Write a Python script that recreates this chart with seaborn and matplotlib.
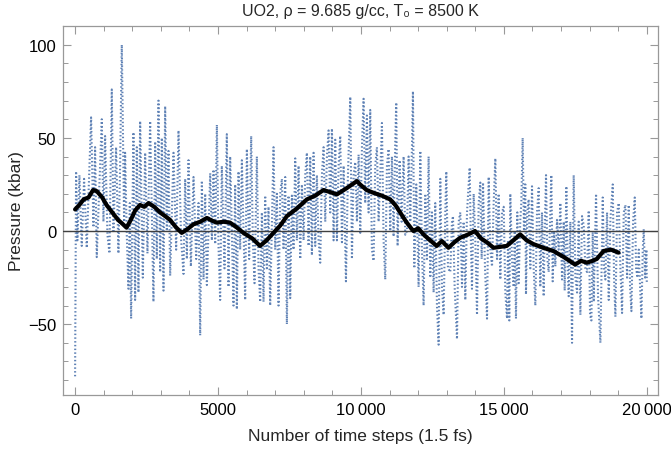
import numpy as np
import pandas as pd
import seaborn as sns
from matplotlib import pyplot as plt
from matplotlib.ticker import MultipleLocator, FixedLocator

# raw pressure trace (time step, kbar)
steps = [0, 35, 82, 152, 233, 315, 408, 502, 560, 642, 700, 758, 852, 934, 992, 1050, 1132, 1202,
         1284, 1342, 1435, 1517, 1575, 1634, 1715, 1750, 1809, 1867, 1914, 1960, 2042, 2100, 2159,
         2217, 2276, 2369, 2451, 2532, 2626, 2742, 2801, 2859, 2918, 2976, 3034, 3093, 3151, 3210,
         3268, 3326, 3443, 3536, 3618, 3711, 3793, 3851, 3910, 3968, 4050, 4143, 4236, 4318, 4376,
         4435, 4493, 4551, 4610, 4727, 4785, 4843, 4901, 4960,
         5017, 5075, 5133, 5227, 5308, 5367, 5425, 5542, 5600, 5659, 5717, 5775, 5834, 5950, 6009,
         6090, 6160, 6219, 6277, 6359, 6417, 6475, 6534, 6592, 6650, 6709, 6767, 6825, 6942, 7000,
         7059, 7117, 7176, 7234, 7292, 7351, 7409, 7467, 7526, 7584, 7642, 7701, 7759, 7818, 7876,
         7934, 7993, 8051, 8109, 8168, 8226, 8284, 8343, 8401, 8459, 8518, 8576, 8634, 8693, 8751,
         8810, 8868, 8926, 8985, 9043, 9101, 9160, 9218, 9276, 9335, 9393, 9475, 9545, 9627, 9685,
         9743, 9801, 9860, 9918, 9976, 10035,
         10092, 10150, 10208, 10267, 10325, 10383, 10442, 10500, 10558, 10617, 10675, 10734, 10792,
         10850, 10909, 10967, 11025, 11084, 11142, 11200, 11235, 11282, 11352, 11422, 11492, 11550,
         11609, 11667, 11726, 11784, 11819, 11866, 11936, 12017, 12076, 12134, 12192, 12250, 12309,
         12367, 12425, 12484, 12542, 12600, 12659, 12717, 12776, 12834, 12892, 12951, 12986, 13044,
         13125, 13184, 13219, 13278, 13360, 13418, 13476, 13534, 13593, 13651, 13710, 13803, 13850,
         13884, 13943, 14001, 14060, 14118, 14176, 14223, 14270, 14340, 14410, 14468, 14526, 14585,
         14643, 14701, 14760, 14818, 14876, 14935, 14993, 15051, 15110,
         15143, 15190, 15225, 15283, 15342, 15377, 15423, 15470, 15517, 15575, 15610, 15657, 15703,
         15750, 15773, 15820, 15867, 15925, 15984, 16042, 16100, 16159, 16217, 16275, 16334, 16392,
         16427, 16474, 16520, 16567, 16614, 16660, 16707, 16754, 16800, 16859, 16917, 16976, 17034,
         17092, 17127, 17186, 17232, 17267, 17326, 17384, 17442, 17501, 17559, 17617, 17676, 17734,
         17793, 17851, 17909, 17968, 18014, 18061, 18108, 18143, 18224, 18294, 18376, 18458, 18504,
         18550, 18609, 18667, 18726, 18808, 18854, 18901, 18959, 19018, 19076, 19134, 19193, 19251,
         19309, 19368, 19414, 19461, 19520, 19578, 19625, 19671, 19718, 19765, 19811, 19858, 19893,
         19940, 19986, 20000]
pressure = [-78, 32, -5, 30, -8, 28, -9, 35, 61, 2, 45, -14, 25, 60, 5, 51, -2, -12,
            76, 0, 45, -12, 35, 100, 5, 42, -2, -31, 15, -47, 53, -37, 45,
            -33, 59, -25, 42, -12, 59, -38, 48, -15, 70, -22, 50, -32, 67, 0,
            43, -24, 42, -10, 54, -5, -23, 28, -15, 38, -19, 29, -15, 15, -56,
            27, -26, 20, -29, 31, -5, 33, -7, 57,
            -8, -37, 35, -20, 52, -30, 40, -40, 25, -42, 32, -10, 38, -37, 44,
            -15, 51, -5, -28, 40, -20, -38, 10, -38, 19, -20, 13, -40, 45, -10,
            20, -40, 20, 28, -10, 29, -50, 19, -36, 19, -10, 39, -5, 35, -15,
            25, -5, 30, 42, -8, 40, -13, 42, -8, 30, -5, -17, 30, 45, 5,
            40, 54, 10, 55, -5, 49, -5, 35, 51, -6, 35, -27, 30, 72, -15,
            30, 37, 5, 41, -1, 45,
            71, 15, 62, 10, 65, -10, -16, 35, 45, 5, 30, 58, -5,
            -26, 35, 44, 0, 40, -3, 48, 69, -8, 38, 5, 40, -2,
            0, 40, 5, 45, 75, -20, 25, -30, 43, -10, -40, 20, -15,
            40, -25, 10, -33, 15, -40, -61, 28, -30, -45, 10, 32, -20,
            -22, 5, 8, -30, -58, 5, 10, -30, 5, -37, 10, 34, -10,
            -31, 20, -5, -45, 15, 26, -15, 26, -20, -47, 29, -10, -19,
            15, 39, -15, 20, -26, 10, 13, -33, -47,
            -5, -48, 20, -15, -30, 0, -47, 10, -28, 6, 15, 50, 0,
            25, -34, 10, 17, -20, 24, -20, -40, 10, 23, -30, 10, -35,
            0, 30, -15, -22, 5, 30, -27, 0, -19, 6, -10, 15, -26,
            5, -32, 24, -20, -35, 5, -60, 30, -25, -33, 5, -45, 8,
            3, -20, -22, 11, -45, -48, 0, -38, 20, -35, -60, 18, -20,
            -26, 10, -37, 6, 25, -25, -46, 10, 15, -20, -44, 10, 14,
            -25, 14, -30, -43, 5, 18, -20, -25, -10, -30, -47, -10, 1,
            -25, -10, -28]

# running average (black curve)
avg_steps = [0, 150, 300, 470, 630, 760, 950, 1100, 1300, 1500, 1650, 1800, 1950, 2100, 2270,
             2420, 2570, 2770, 2970, 3150, 3320, 3530, 3730, 3930, 4140, 4380, 4610, 4800, 4960,
             5200, 5420, 5650, 5890, 6200, 6470, 6700, 6940, 7180, 7410, 7750, 8110, 8400, 8690,
             8900, 9160, 9500, 9860, 9970, 10200, 10440, 10730, 11020, 11200, 11370, 11580, 11780,
             11840, 12000, 12200, 12420, 12650, 12830, 13060, 13270, 13470, 13730, 13990, 14200,
             14400, 14640, 14870, 15100, 15330, 15570, 15800, 16030, 16380, 16730, 17100, 17490,
             17700, 17900, 18100, 18250, 18490, 18750, 19010]
avg_values = [11.6, 14, 17, 18, 22, 21.4, 18, 14, 10, 6, 4, 1.8, 6, 11, 14,
              13, 15, 13, 10, 8, 6, 2, -1, 1, 3.6, 5, 7, 5.5, 4.5,
              5, 4.5, 2, -1, -4, -8, -5, -1, 3, 8, 12, 17, 19, 22,
              21, 19.7, 23, 26.8, 25, 22, 20.5, 19, 17, 14, 10, 5, 1,
              0, 1.5, -2, -5, -8, -5.4, -9, -6, -3.6, -2, 0, -4,
              -6, -9, -8.5, -8, -5, -1.8, -5, -7, -9, -10.7, -14, -18,
              -16, -17, -16, -15, -10.7, -10, -11.6]

raw = pd.DataFrame({"step": steps, "p": pressure})
avg = pd.DataFrame({"step": avg_steps, "p": avg_values})

sns.set_style("ticks")
plt.rcParams['font.family'] = ['Liberation Sans', 'DejaVu Sans']

fig = plt.figure(figsize=(6.71, 4.52), dpi=100)
ax = fig.add_axes([0.094, 0.124, 0.887, 0.816])

sns.lineplot(data=raw, x="step", y="p", ax=ax, sort=False, estimator=None,
             color="#5e81b5", lw=1.5, linestyle=(0, (0.7, 1.1)), zorder=2)
ax.axhline(0, color="#404040", lw=1.0, zorder=3)
sns.lineplot(data=avg, x="step", y="p", ax=ax, sort=False, estimator=None,
             color="black", lw=3.0, zorder=4)

ax.set_xlim(-420, 20400)
ax.set_ylim(-88, 110)
ax.xaxis.set_major_locator(FixedLocator([0, 5000, 10000, 15000, 20000]))
ax.set_xticklabels(["0", "5000", "10\u2009000", "15\u2009000", "20\u2009000"])
ax.xaxis.set_minor_locator(MultipleLocator(1000))
ax.yaxis.set_minor_locator(MultipleLocator(10))
ax.set_yticks([-50, 0, 50, 100])
ax.set_yticklabels(["\u221250", "0", "50", "100"])

ax.tick_params(which="both", direction="in", top=True, right=True, color="#999999",
               labelsize=12, labelcolor="black")
ax.tick_params(which="major", length=6, width=0.8, pad=5)
ax.tick_params(which="minor", length=3.5, width=0.7)
for s in ax.spines.values():
    s.set_color("#999999")
    s.set_linewidth(0.9)

ax.set_xlabel("Number of time steps (1.5 fs)", fontsize=12.5, labelpad=8)
ax.set_ylabel("Pressure (kbar)", fontsize=12.5, labelpad=3)
ax.set_title("UO2, \u03c1 = 9.685 g/cc, T\u2080 = 8500 K", fontsize=11.5, pad=8)

fig.savefig("out.png", dpi=100)
